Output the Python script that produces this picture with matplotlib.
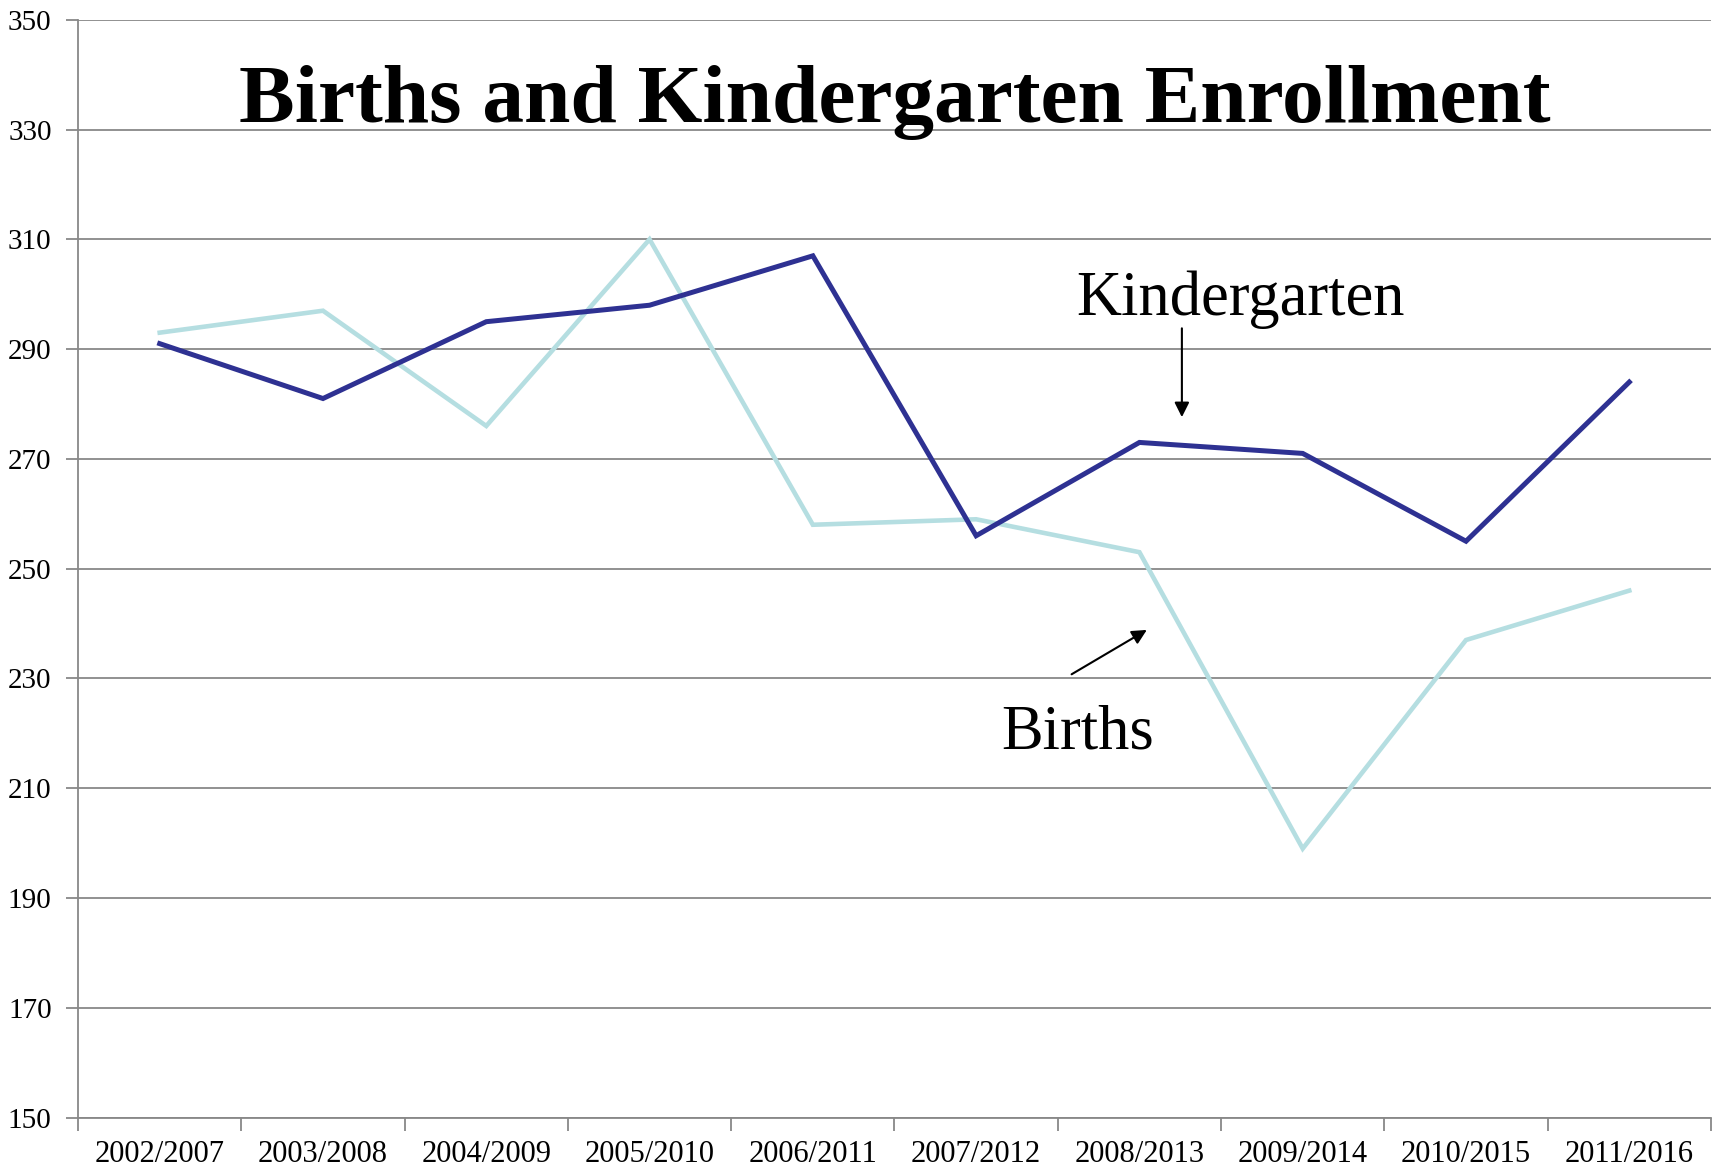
import matplotlib
matplotlib.use("Agg")
import matplotlib.pyplot as plt
import numpy as np

categories = ["2002/2007", "2003/2008", "2004/2009", "2005/2010", "2006/2011",
              "2007/2012", "2008/2013", "2009/2014", "2010/2015", "2011/2016"]
kindergarten = [291, 281, 295, 298, 307, 256, 273, 271, 255, 284]
births = [293, 297, 276, 310, 258, 259, 253, 199, 237, 246]
y_ticks = [150, 170, 190, 210, 230, 250, 270, 290, 310, 330, 350]

plt.rcParams['font.family'] = ['Liberation Serif', 'DejaVu Serif']

fig = plt.figure(figsize=(17.23, 11.73), dpi=100)
ax = fig.add_axes([0.0453, 0.0473, 0.9477, 0.9358])

x = np.arange(len(categories))
ax.plot(x, births, color='#B5DEE1', lw=3.3, solid_joinstyle='miter', zorder=3)
ax.plot(x, kindergarten, color='#2E3192', lw=3.6, solid_joinstyle='miter', zorder=4)

ax.set_xlim(-0.5, len(categories) - 0.5)
ax.set_ylim(150, 350)
ax.set_yticks(y_ticks)
ax.set_yticklabels([str(v) for v in y_ticks], fontsize=21)
ax.set_xticks(x)
ax.set_xticklabels(categories, fontsize=22)
ax.set_xticks(np.arange(-0.5, len(categories)), minor=True)
ax.tick_params(axis='x', which='major', length=0, pad=16)
ax.tick_params(axis='x', which='minor', length=9, width=1.3, color='#888888', direction='out')
ax.tick_params(axis='y', which='major', length=9, width=1.3, color='#888888', direction='out', pad=10)

ax.grid(axis='y', color='#888888', lw=1.3, zorder=1)
ax.set_axisbelow(True)
for s in ['top', 'right']:
    ax.spines[s].set_visible(False)
for s in ['left', 'bottom']:
    ax.spines[s].set_color('#888888')
    ax.spines[s].set_linewidth(1.3)

ax.text(0.5, 0.925, "Births and Kindergarten Enrollment", transform=ax.transAxes,
        ha='center', va='center', fontsize=60, fontweight='bold', color='black')

ax.text(6.62, 299, "Kindergarten", ha='center', va='center', fontsize=45)
ax.annotate("", xy=(6.26, 277.1), xytext=(6.26, 294.3),
            arrowprops=dict(arrowstyle='-|>', color='black', lw=1.5, mutation_scale=22))
ax.text(5.62, 220, "Births", ha='center', va='center', fontsize=45)
ax.annotate("", xy=(6.06, 239.1), xytext=(5.57, 230.5),
            arrowprops=dict(arrowstyle='-|>', color='black', lw=1.5, mutation_scale=22))

fig.savefig("out.png", dpi=100)
